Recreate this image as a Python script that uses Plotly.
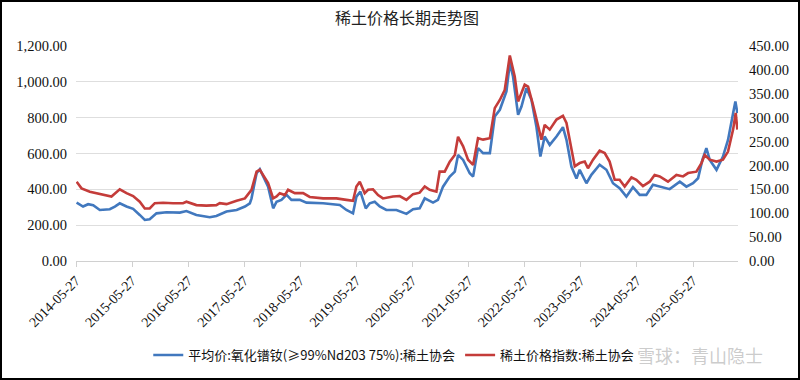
import plotly.graph_objects as go

title_text = "稀土价格长期走势图"
name_nd = "平均价:氧化镨钕(≥99%Nd203 75%):稀土协会"
name_idx = "稀土价格指数:稀土协会"

nd_dates = [
    "2014-05-31", "2014-07-12", "2014-08-14", "2014-09-16", "2014-10-29", "2015-01-02",
    "2015-02-04", "2015-03-08", "2015-04-21", "2015-06-03", "2015-07-16", "2015-08-18",
    "2015-09-19", "2015-11-02", "2016-01-06", "2016-04-02", "2016-05-15", "2016-07-19",
    "2016-10-14", "2016-11-26", "2017-01-31", "2017-04-07", "2017-05-31", "2017-07-02",
    "2017-07-13", "2017-08-15", "2017-09-05", "2017-09-27", "2017-10-29", "2017-12-01",
    "2017-12-23", "2018-01-24", "2018-02-26", "2018-03-30", "2018-05-23", "2018-07-06",
    "2018-10-22", "2019-02-08", "2019-03-23", "2019-05-05", "2019-05-27", "2019-06-22",
    "2019-07-27", "2019-08-22", "2019-09-23", "2019-10-26", "2019-12-08", "2020-02-12",
    "2020-04-17", "2020-05-30", "2020-07-12", "2020-08-14", "2020-10-07", "2020-11-08",
    "2020-12-11", "2021-01-24", "2021-02-26", "2021-03-19", "2021-04-21", "2021-06-03",
    "2021-06-25", "2021-07-27", "2021-08-29", "2021-10-12", "2021-11-13", "2021-12-16",
    "2022-01-28", "2022-02-19", "2022-03-12", "2022-04-14", "2022-05-06", "2022-06-07",
    "2022-07-10", "2022-08-11", "2022-09-06", "2022-10-04", "2022-11-06", "2022-12-20",
    "2023-01-31", "2023-02-23", "2023-03-27", "2023-04-29", "2023-05-20", "2023-07-03",
    "2023-08-04", "2023-09-27", "2023-11-10", "2023-12-23", "2024-02-04", "2024-03-19",
    "2024-05-01", "2024-06-14", "2024-07-27", "2024-09-08", "2024-11-02", "2024-12-26",
    "2025-03-02", "2025-04-14", "2025-05-27", "2025-06-29", "2025-07-27", "2025-08-22",
    "2025-09-13", "2025-10-27", "2025-12-08", "2026-01-10", "2026-02-12", "2026-02-27",
    "2026-03-12",
]
nd_price = [
    326, 304, 317, 311, 285, 289,
    304, 322, 304, 291, 257, 229,
    233, 266, 272, 270, 279, 257,
    244, 251, 276, 285, 304, 322,
    350, 490, 512, 471, 415, 294,
    331, 341, 369, 341, 341, 326,
    322, 313, 285, 266, 359, 387,
    294, 322, 331, 304, 285, 285,
    263, 289, 294, 350, 326, 341,
    415, 471, 499, 592, 564, 490,
    471, 630, 602, 602, 806, 844,
    946, 1105, 1030, 816, 862, 965,
    900, 751, 583, 695, 648, 695,
    747, 676, 527, 460, 509, 434,
    481, 537, 509, 434, 406, 359,
    412, 369, 369, 425, 415, 401,
    443, 415, 434, 462, 564, 630,
    564, 509, 583, 676, 825, 890,
    825,
]

idx_dates = [
    "2014-05-31", "2014-07-02", "2014-08-25", "2014-10-29", "2014-12-12", "2015-01-13",
    "2015-03-08", "2015-04-21", "2015-06-03", "2015-07-16", "2015-08-18", "2015-09-19",
    "2015-10-22", "2015-12-15", "2016-02-18", "2016-04-23", "2016-05-15", "2016-07-19",
    "2016-09-22", "2016-11-26", "2016-12-18", "2017-01-31", "2017-04-07", "2017-05-31",
    "2017-07-13", "2017-08-15", "2017-09-05", "2017-09-27", "2017-10-29", "2017-12-01",
    "2017-12-23", "2018-01-13", "2018-02-15", "2018-03-08", "2018-04-21", "2018-06-14",
    "2018-07-27", "2018-10-22", "2019-01-17", "2019-03-23", "2019-05-05", "2019-05-27",
    "2019-06-18", "2019-07-20", "2019-08-11", "2019-09-12", "2019-10-15", "2019-11-16",
    "2020-01-20", "2020-03-04", "2020-04-17", "2020-05-30", "2020-07-12", "2020-08-14",
    "2020-09-15", "2020-10-29", "2020-11-19", "2020-12-22", "2021-01-24", "2021-02-26",
    "2021-03-19", "2021-04-21", "2021-05-23", "2021-06-25", "2021-07-27", "2021-08-29",
    "2021-10-12", "2021-11-13", "2021-12-16", "2022-01-17", "2022-02-19", "2022-03-23",
    "2022-04-14", "2022-05-27", "2022-06-18", "2022-07-20", "2022-08-22", "2022-09-13",
    "2022-10-04", "2022-11-06", "2022-12-20", "2023-01-31", "2023-02-23", "2023-03-27",
    "2023-04-18", "2023-05-20", "2023-06-22", "2023-07-13", "2023-08-15", "2023-09-27",
    "2023-10-30", "2023-12-01", "2024-01-03", "2024-02-04", "2024-03-08", "2024-04-21",
    "2024-05-23", "2024-07-05", "2024-08-18", "2024-09-19", "2024-10-22", "2024-12-15",
    "2025-02-08", "2025-03-23", "2025-04-25", "2025-06-18", "2025-07-21", "2025-08-11",
    "2025-09-13", "2025-10-27", "2025-12-08", "2026-01-10", "2026-02-12", "2026-03-01",
    "2026-03-12",
]
idx_values = [
    166, 152, 145, 140, 137, 135,
    150, 142, 136, 124, 110, 110,
    121, 122, 121, 121, 124, 117,
    116, 117, 121, 119, 126, 131,
    149, 187, 191, 180, 163, 131,
    135, 142, 138, 149, 142, 142,
    134, 131, 131, 128, 126, 156,
    166, 142, 149, 150, 138, 131,
    135, 136, 128, 140, 143, 156,
    149, 145, 187, 187, 208, 222,
    260, 240, 212, 201, 257, 254,
    257, 320, 337, 358, 430, 386,
    334, 369, 365, 327, 281, 254,
    285, 275, 296, 304, 289, 233,
    198, 205, 208, 194, 212, 231,
    226, 208, 170, 170, 156, 175,
    170, 157, 166, 180, 177, 166,
    180, 177, 184, 187, 205, 222,
    212, 208, 212, 229, 275, 310,
    275,
]

tick_dates = ["%d-05-27" % y for y in range(2014, 2026)]
tick_labels = tick_dates

left_ticks = [0, 200, 400, 600, 800, 1000, 1200]
right_ticks = [0, 50, 100, 150, 200, 250, 300, 350, 400, 450]

serif = "'Liberation Serif', 'DejaVu Serif', serif"
cjk = "'Noto Sans CJK SC', sans-serif"

fig = go.Figure()
fig.add_trace(go.Scatter(
    x=nd_dates, y=nd_price, name=name_nd, mode="lines",
    line=dict(color="#4178BE", width=2.6), yaxis="y",
))
fig.add_trace(go.Scatter(
    x=idx_dates, y=idx_values, name=name_idx, mode="lines",
    line=dict(color="#C43C3A", width=2.6), yaxis="y2",
))

W, H = 800, 380
ml, mr, mt, mb = 76, 62, 46, 119
pw, ph = W - ml - mr, H - mt - mb

fig.update_layout(
    width=W, height=H,
    margin=dict(l=ml, r=mr, t=mt, b=mb, autoexpand=False),
    paper_bgcolor="white", plot_bgcolor="white",
    title=dict(text=title_text, x=0.5, xref="paper", y=1 - 18 / H, yanchor="middle",
               font=dict(family=cjk, size=16, color="#222"), automargin=False),
    xaxis=dict(
        type="date", range=["2014-05-27", "2026-03-16"],
        tickvals=tick_dates, ticktext=tick_labels, tickangle=-45,
        tickfont=dict(family=serif, size=14, color="#111"),
        showgrid=False, showline=True, linecolor="#d0d0d0", linewidth=1,
        ticks="outside", ticklen=5, tickcolor="#d0d0d0",
        zeroline=False, automargin=False,
    ),
    yaxis=dict(
        range=[0, 1200], tickvals=left_ticks, tickformat=",.2f",
        tickfont=dict(family=serif, size=14.5, color="#111"),
        showgrid=True, gridcolor="#dedede", gridwidth=1,
        zeroline=False, showline=False, ticks="", ticklabelstandoff=8,
        automargin=False,
    ),
    yaxis2=dict(
        range=[0, 450], tickvals=right_ticks, tickformat=".2f",
        overlaying="y", side="right",
        tickfont=dict(family=serif, size=14.5, color="#111"),
        showgrid=False, zeroline=False, showline=False, ticks="", ticklabelstandoff=10,
        automargin=False,
    ),
    legend=dict(
        orientation="h", x=0.48, xanchor="center", y=(mb - 25) / -ph, yanchor="middle",
        font=dict(family=cjk, size=13, color="#111"), bgcolor="rgba(0,0,0,0)",
        itemwidth=30,
    ),
    showlegend=True,
)

# outer frame of the picture
fig.add_shape(
    type="rect", xref="paper", yref="paper",
    x0=(-ml + 1) / pw, x1=1 + (mr - 1) / pw, y0=(-mb + 1) / ph, y1=1 + (mt - 1) / ph,
    line=dict(color="black", width=2), fillcolor="rgba(0,0,0,0)", layer="above",
)

# watermark
fig.add_annotation(
    text="雪球：青山隐士", xref="paper", yref="paper",
    x=(700 - ml) / pw, y=(H - mb - 355) / ph, xanchor="center", yanchor="middle",
    showarrow=False, font=dict(family=cjk, size=18, color="rgba(170,170,170,0.6)"),
)

fig.write_html("out.html", post_script="document.body.style.margin='0';",
               config={"displayModeBar": False})
